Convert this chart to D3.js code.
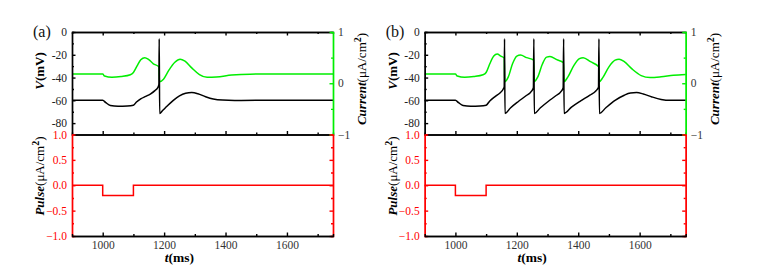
<!DOCTYPE html>
<html>
<head>
<meta charset="utf-8">
<script src="https://cdn.jsdelivr.net/npm/d3@7"></script>
<style>
  body { margin: 0; background: #fff; }
</style>
</head>
<body>
<script>
// chart size
var width = 759, height = 267;
var FONT = "'Liberation Serif', 'Times New Roman', Times, serif";

// time axis
var tDomain = [900, 1750];
var tTicks = [1000, 1200, 1400, 1600];
var tMinor = [1100, 1300, 1500, 1700];

// membrane potential (mV), panel a: one spike
var vA = [[900,-60],[1000,-60],[1010,-62],[1025,-64.5],[1050,-65.2],[1080,-65],[1100,-64.3],
  [1110,-61.5],[1125,-58.5],[1140,-56.5],[1155,-54.5],[1170,-51.5],[1180,-48.5],[1183,-46],
  [1184,-6],[1185.5,-71.5],[1195,-69],[1210,-65],[1230,-60],[1250,-56],[1270,-53.8],[1290,-53.2],
  [1310,-54.2],[1335,-56.8],[1360,-58.8],[1390,-59.8],[1430,-60.1],[1500,-60],[1750,-60]];

// ionic current (uA/cm2), panel a
var iA = [[900,0.18],[1000,0.18],[1006,0.14],[1030,0.115],[1060,0.13],[1090,0.165],[1100,0.21],
  [1112,0.34],[1124,0.46],[1137,0.5],[1150,0.46],[1165,0.38],[1183,0.32],[1185,0.03],[1198,0.08],
  [1215,0.25],[1235,0.41],[1252,0.47],[1268,0.43],[1290,0.3],[1315,0.17],[1340,0.115],[1370,0.12],
  [1420,0.16],[1480,0.178],[1750,0.18]];

// membrane potential (mV), panel b: four spikes
var vB = [[900,-60],[1000,-60],[1010,-62],[1025,-64.5],[1050,-65.2],[1080,-65],[1100,-64.3],
  [1112,-60.5],[1130,-56.5],[1145,-53.5],[1155,-50.5],[1159,-48],
  [1160,-6],[1161.5,-71.5],[1180,-66.5],[1205,-61],[1230,-56],[1248,-52],[1254,-49],
  [1255.5,-6],[1257,-71.5],[1277,-66.5],[1302,-61],[1327,-56],[1345,-52],[1351,-49],
  [1352.5,-6],[1354,-71.5],[1378,-66],[1408,-60.5],[1438,-55.5],[1458,-51.5],[1466,-48.5],
  [1467.5,-6],[1469,-71.5],[1490,-66.5],[1520,-60],[1550,-55.5],[1570,-53.6],[1590,-53.2],
  [1612,-54.4],[1640,-57],[1670,-59.2],[1700,-60],[1750,-60]];

// ionic current (uA/cm2), panel b
var iB = [[900,0.18],[1000,0.18],[1006,0.14],[1030,0.115],[1060,0.13],[1090,0.165],[1100,0.21],
  [1112,0.38],[1125,0.53],[1136,0.57],[1148,0.53],[1159,0.49],[1160.5,0.03],[1172,0.12],
  [1186,0.38],[1200,0.53],[1212,0.55],[1232,0.5],[1255,0.45],[1256.5,0.03],[1268,0.12],
  [1283,0.37],[1297,0.51],[1308,0.52],[1330,0.46],[1352,0.4],[1353.5,0.03],[1366,0.12],
  [1386,0.35],[1404,0.48],[1416,0.5],[1440,0.42],[1467,0.32],[1468.5,0.03],[1480,0.11],
  [1500,0.32],[1520,0.45],[1533,0.47],[1550,0.42],[1575,0.28],[1605,0.15],[1634,0.11],
  [1670,0.125],[1710,0.155],[1750,0.17]];

// stimulus pulse (uA/cm2), same in both panels
var pulse = [[900,0],[1000,0],[1000,-0.2],[1100,-0.2],[1100,0],[1750,0]];

var vTicks = [0, -20, -40, -60, -80];
var vMinor = [-10, -30, -50, -70, -90];
var iTicks = [1, 0, -1];
var iMinor = [0.5, -0.5];
var pTicks = [1, 0.5, 0, -0.5, -1];
var pMinor = [0.75, 0.25, -0.25, -0.75];

var svg = d3.select("body").append("svg")
    .attr("width", width)
    .attr("height", height)
    .attr("font-family", FONT);

var GREEN = "#00ee00", RED = "#ff0000", INK = "#222";

function drawPanel(left, tag, vData, iData) {
  var plotW = 261;
  var top = 32, mid = 134.5, bottom = 236;

  var x = d3.scaleLinear().domain(tDomain).range([left, left + plotW]);
  var yV = d3.scaleLinear().domain([-90, 0]).range([mid, top]);
  var yI = d3.scaleLinear().domain([-1, 1]).range([mid, top]);
  var yP = d3.scaleLinear().domain([-1, 1]).range([bottom, mid]);

  var g = svg.append("g");

  // axis helper
  function ax(axis, tx, ty, color, labelColor) {
    var a = g.append("g").attr("transform", "translate(" + tx + "," + ty + ")").call(axis);
    a.attr("font-family", FONT).attr("font-size", 11.5);
    a.selectAll("path, line").attr("stroke", color).attr("stroke-width", 1.4);
    a.selectAll("text").attr("fill", labelColor);
    return a;
  }

  // curves
  var lineV = d3.line().x(d => x(d[0])).y(d => yV(d[1])).curve(d3.curveMonotoneX);
  var lineI = d3.line().x(d => x(d[0])).y(d => yI(d[1])).curve(d3.curveMonotoneX);
  var lineP = d3.line().x(d => x(d[0])).y(d => yP(d[1]));

  g.append("path").attr("d", lineI(iData)).attr("fill", "none")
    .attr("stroke", GREEN).attr("stroke-width", 1.5);
  g.append("path").attr("d", lineV(vData)).attr("fill", "none")
    .attr("stroke", "#000").attr("stroke-width", 1.5);
  g.append("path").attr("d", lineP(pulse)).attr("fill", "none")
    .attr("stroke", RED).attr("stroke-width", 1.5);

  // top plot: left V axis
  ax(d3.axisLeft(yV).tickValues(vMinor).tickSize(-2).tickFormat(""), left, 0, "#000", INK);
  ax(d3.axisLeft(yV).tickValues(vTicks).tickSize(-3.5).tickSizeOuter(0).tickPadding(5)
    .tickFormat(d => String(d)), left, 0, "#000", INK);
  // top plot: top and bottom spines
  ax(d3.axisTop(x).tickValues(tMinor).tickSize(-2).tickFormat(""), 0, top, "#000", INK);
  ax(d3.axisTop(x).tickValues(tTicks).tickSize(-3.5).tickSizeOuter(0).tickFormat(""), 0, top, "#000", INK);
  ax(d3.axisBottom(x).tickValues(tMinor).tickSize(-2).tickFormat(""), 0, mid, "#000", INK);
  ax(d3.axisBottom(x).tickValues(tTicks).tickSize(-3.5).tickSizeOuter(0).tickFormat(""), 0, mid, "#000", INK);
  // top plot: right current axis
  ax(d3.axisRight(yI).tickValues(iMinor).tickSize(-2).tickFormat(""), left + plotW, 0, GREEN, INK);
  ax(d3.axisRight(yI).tickValues(iTicks).tickSize(-3.5).tickSizeOuter(0).tickPadding(5)
    .tickFormat(d3.format("d")), left + plotW, 0, GREEN, "#333");

  // bottom plot: left / right pulse axes
  ax(d3.axisLeft(yP).tickValues(pMinor).tickSize(-2).tickFormat(""), left, 0, RED, RED);
  ax(d3.axisLeft(yP).tickValues(pTicks).tickSize(-3.5).tickSizeOuter(0).tickPadding(5)
    .tickFormat(d3.format(".1f")), left, 0, RED, RED);
  ax(d3.axisRight(yP).tickValues(pMinor).tickSize(-2).tickFormat(""), left + plotW, 0, RED, RED);
  ax(d3.axisRight(yP).tickValues(pTicks).tickSize(-3.5).tickSizeOuter(0).tickFormat(""), left + plotW, 0, RED, RED);
  // bottom plot: time axis
  ax(d3.axisBottom(x).tickValues(tMinor).tickSize(-2).tickFormat(""), 0, bottom, "#000", INK);
  ax(d3.axisBottom(x).tickValues(tTicks).tickSize(-3.5).tickSizeOuter(0).tickPadding(5)
    .tickFormat(d3.format("d")), 0, bottom, "#000", "#333");

  // panel tag
  g.append("text").attr("x", left - 39).attr("y", 37)
    .attr("font-size", 16).attr("fill", "#111").text(tag);

  // axis titles
  var vt = g.append("text").attr("transform", "translate(" + (left - 28) + ",71) rotate(-90)")
    .attr("text-anchor", "middle").attr("font-size", 13).attr("font-weight", "bold");
  vt.append("tspan").attr("font-style", "italic").text("V");
  vt.append("tspan").text("(mV)");

  var pt = g.append("text").attr("transform", "translate(" + (left - 28) + ",176) rotate(-90)")
    .attr("text-anchor", "middle").attr("font-size", 13).attr("font-weight", "bold");
  pt.append("tspan").attr("font-style", "italic").text("Pulse");
  pt.append("tspan").attr("font-weight", "normal").text("(μA/cm");
  pt.append("tspan").attr("dy", -5).attr("font-size", 10).text("2");
  pt.append("tspan").attr("dy", 5).attr("font-weight", "normal").text(")");

  var ct = g.append("text").attr("transform", "translate(" + (left + plotW + 33) + ",79) rotate(-90)")
    .attr("text-anchor", "middle").attr("font-size", 13).attr("font-weight", "bold");
  ct.append("tspan").attr("font-style", "italic").text("Current");
  ct.append("tspan").attr("font-weight", "normal").text("(μA/cm");
  ct.append("tspan").attr("dy", -5).attr("font-size", 10).text("2");
  ct.append("tspan").attr("dy", 5).attr("font-weight", "normal").text(")");

  var tt = g.append("text").attr("x", x(1250)).attr("y", 262)
    .attr("text-anchor", "middle").attr("font-size", 13.5).attr("font-weight", "bold");
  tt.append("tspan").attr("font-style", "italic").text("t");
  tt.append("tspan").text("(ms)");
}

drawPanel(72, "(a)", vA, iA);
drawPanel(424.7, "(b)", vB, iB);
</script>
</body>
</html>
